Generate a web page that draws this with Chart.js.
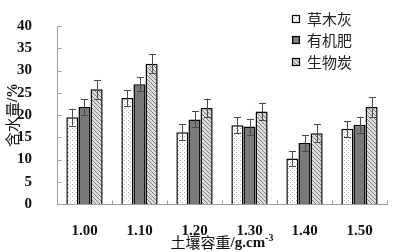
<!DOCTYPE html>
<html>
<head>
<meta charset="utf-8">
<script src="https://cdn.jsdelivr.net/npm/chart.js@4/dist/chart.umd.min.js"></script>
<style>
html,body{margin:0;padding:0;background:#fff;}
#wrap{width:396px;height:252px;position:relative;}
</style>
</head>
<body>
<div id="wrap"><canvas id="c" width="396" height="252"></canvas></div>
<script>
// ---- data ----
const categories = ["1.00", "1.10", "1.20", "1.30", "1.40", "1.50"];
const seriesNames = ["草木灰", "有机肥", "生物炭"];
const ashValues     = [19.5, 23.8, 16.1, 17.7, 10.2, 16.9];
const ashErrors     = [1.9, 1.8, 1.8, 1.8, 1.7, 1.8];
const manureValues  = [21.8, 26.9, 19.0, 17.4, 13.7, 17.8];
const manureErrors  = [1.8, 1.6, 1.8, 1.8, 1.8, 1.8];
const biocharValues = [25.8, 31.5, 21.6, 20.8, 15.9, 21.8];
const biocharErrors = [2.1, 2.1, 2.1, 2.0, 2.0, 2.2];
const yTicks = [0, 5, 10, 15, 20, 25, 30, 35, 40];
const xTitleCn = "土壤容重", xTitleUnit = "/g.cm", xTitleSup = "-3";
const yTitleCn = "含水量", yTitleUnit = "/%";

// ---- patterns ----
function makePattern(kind) {
  const t = document.createElement('canvas');
  const ctx = t.getContext('2d');
  if (kind === 'dots') {
    t.width = 4; t.height = 4;
    ctx.fillStyle = '#ffffff'; ctx.fillRect(0, 0, 4, 4);
    ctx.fillStyle = '#b0b0b0';
    ctx.fillRect(0, 0, 1, 1); ctx.fillRect(2, 2, 1, 1);
  } else if (kind === 'hatch') {
    t.width = 4; t.height = 4;
    ctx.fillStyle = '#dcdcdc'; ctx.fillRect(0, 0, 4, 4);
    ctx.fillStyle = '#808080';
    for (let i = 0; i < 4; i++) ctx.fillRect(i, i, 1, 1);
  }
  return document.getElementById('c').getContext('2d').createPattern(t, 'repeat');
}
const fills = [makePattern('dots'), '#7a7a7a', makePattern('hatch')];
const errs = [ashErrors, manureErrors, biocharErrors];

const serif = "'Liberation Serif', serif";
const cjk = "'Noto Sans CJK SC', sans-serif";

const extras = {
  id: 'extras',
  afterDatasetsDraw(chart) {
    const ctx = chart.ctx;
    const ys = chart.scales.y, xs = chart.scales.x;
    const ca = chart.chartArea;
    // error bars
    ctx.save();
    ctx.strokeStyle = '#4a4a4a';
    ctx.lineWidth = 1;
    chart.data.datasets.forEach((ds, i) => {
      const meta = chart.getDatasetMeta(i);
      meta.data.forEach((el, j) => {
        const v = ds.data[j], e = errs[i][j];
        const x = Math.round(el.x) + 0.5;
        const y1 = ys.getPixelForValue(v + e), y2 = ys.getPixelForValue(v - e);
        ctx.beginPath();
        ctx.moveTo(x, y1); ctx.lineTo(x, y2);
        ctx.moveTo(x - 3.5, Math.round(y1) + 0.5); ctx.lineTo(x + 3.5, Math.round(y1) + 0.5);
        ctx.moveTo(x - 3.5, Math.round(y2) + 0.5); ctx.lineTo(x + 3.5, Math.round(y2) + 0.5);
        ctx.stroke();
      });
    });
    // inside tick marks
    ctx.strokeStyle = '#a0a0a0';
    ctx.beginPath();
    const ax = Math.round(ca.left) + 0.5;
    yTicks.forEach(v => {
      const y = Math.round(ys.getPixelForValue(v)) + 0.5;
      ctx.moveTo(ax, y); ctx.lineTo(ax + 4, y);
    });
    const step = xs.getPixelForValue(1) - xs.getPixelForValue(0);
    const by = Math.round(ca.bottom) + 0.5;
    for (let k = 0; k <= categories.length; k++) {
      const x = Math.round(xs.getPixelForValue(0) - step / 2 + k * step) + 0.5;
      ctx.moveTo(x, by); ctx.lineTo(x, by - 4);
    }
    ctx.stroke();
    // legend
    ctx.font = "15px " + cjk;
    ctx.textBaseline = 'middle';
    ctx.textAlign = 'left';
    const lx = 292, ly = [19, 40, 62];
    seriesNames.forEach((n, i) => {
      ctx.fillStyle = fills[i];
      ctx.fillRect(lx, ly[i] - 4, 8, 8);
      ctx.strokeStyle = '#000'; ctx.lineWidth = 1.2;
      ctx.strokeRect(lx + 0.5, ly[i] - 3.5, 7, 7);
      ctx.fillStyle = '#222';
      ctx.fillText(n, lx + 15, ly[i]);
    });
    // axis titles (mixed weight)
    ctx.fillStyle = '#111';
    ctx.textBaseline = 'alphabetic';
    const fCn = "15px " + cjk, fUn = "bold 15px " + serif, fSup = "bold 10px " + serif;
    // x title
    ctx.font = fCn; const w1 = ctx.measureText(xTitleCn).width;
    ctx.font = fUn; const w2 = ctx.measureText(xTitleUnit).width;
    ctx.font = fSup; const w3 = ctx.measureText(xTitleSup).width;
    let sx = (ca.left + ca.right) / 2 - (w1 + w2 + w3) / 2;
    const base = 247;
    ctx.font = fCn; ctx.fillText(xTitleCn, sx, base + 1);
    ctx.font = fUn; ctx.fillText(xTitleUnit, sx + w1, base);
    ctx.font = fSup; ctx.fillText(xTitleSup, sx + w1 + w2, base - 6);
    // y title
    ctx.save();
    ctx.translate(17, (ca.top + ca.bottom) / 2);
    ctx.rotate(-Math.PI / 2);
    ctx.font = fCn; const v1 = ctx.measureText(yTitleCn).width;
    ctx.font = fUn; const v2 = ctx.measureText(yTitleUnit).width;
    let sy = -(v1 + v2) / 2;
    ctx.font = fCn; ctx.fillText(yTitleCn, sy, 1);
    ctx.font = fUn; ctx.fillText(yTitleUnit, sy + v1, 0);
    ctx.restore();
    ctx.restore();
  }
};

new Chart(document.getElementById('c'), {
  type: 'bar',
  data: {
    labels: categories,
    datasets: [
      { label: seriesNames[0], data: ashValues, backgroundColor: fills[0], borderColor: '#000', borderWidth: 1.5 },
      { label: seriesNames[1], data: manureValues, backgroundColor: fills[1], borderColor: '#000', borderWidth: 1.5 },
      { label: seriesNames[2], data: biocharValues, backgroundColor: fills[2], borderColor: '#000', borderWidth: 1.5 }
    ]
  },
  options: {
    responsive: false,
    animation: false,
    devicePixelRatio: 1,
    categoryPercentage: 0.66,
    barPercentage: 1.0,
    layout: { padding: { left: 0, right: 9, top: 9, bottom: 0 } },
    plugins: { legend: { display: false }, tooltip: { enabled: false } },
    scales: {
      x: {
        grid: { display: false },
        border: { display: true, color: '#a0a0a0', width: 1 },
        ticks: { color: '#111', font: { family: serif, size: 15, weight: 'bold' }, padding: 10 },
        afterFit(s) { s.height = 48; }
      },
      y: {
        min: 0, max: 40,
        afterBuildTicks(s) { s.ticks = yTicks.map(v => ({ value: v })); },
        grid: { display: false },
        border: { display: true, color: '#a0a0a0', width: 1 },
        ticks: { color: '#111', font: { family: serif, size: 15, weight: 'bold' }, padding: 17 },
        afterFit(s) { s.width = 57; }
      }
    }
  },
  plugins: [extras]
});
</script>
</body>
</html>
